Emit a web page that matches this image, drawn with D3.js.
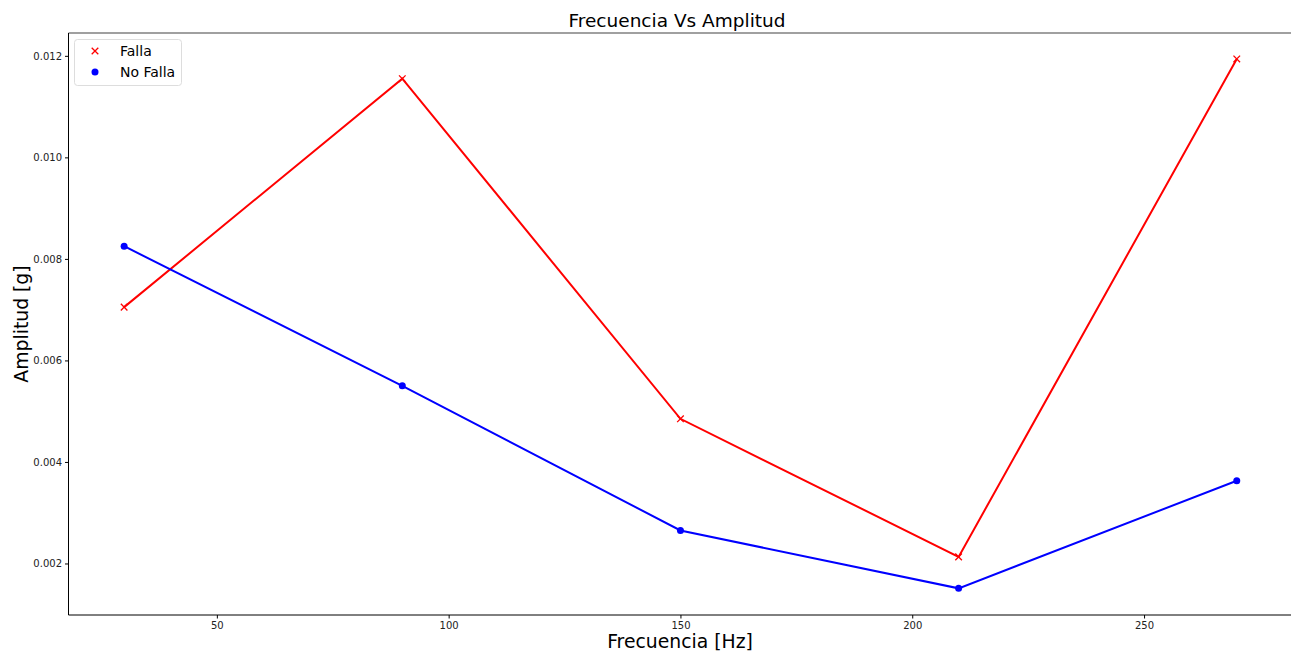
<!DOCTYPE html>
<html><head><meta charset="utf-8">
<script src="https://cdn.jsdelivr.net/npm/d3@7"></script>
<style>body{margin:0;background:#fff}svg{display:block}text{font-family:"DejaVu Sans",sans-serif}</style>
</head><body><svg id="c" width="1291" height="651"></svg>
<script>
const frecuencias = [30, 90, 150, 210, 270];
const falla = [0.00705, 0.01155, 0.00485, 0.00213, 0.01194];
const noFalla = [0.00825, 0.0055, 0.00265, 0.00151, 0.00363];
const xTicks = [50, 100, 150, 200, 250];
const yTicks = [0.002, 0.004, 0.006, 0.008, 0.010, 0.012];

const svg = d3.select("#c");
const L = 68.5, R = 1292.4, T = 33, B = 615;
const x = d3.scaleLinear().domain([18, 282]).range([L, R]);
const y = d3.scaleLinear().domain([0.000985, 0.01245]).range([B, T]);

// x axis
const xa = svg.append("g").attr("transform", `translate(0,${B})`)
  .call(d3.axisBottom(x).tickValues(xTicks).tickSize(3.5).tickPadding(3).tickFormat(d3.format("d")));
xa.select(".domain").remove();
xa.selectAll("text").attr("font-size", 10).attr("fill", "#222").style("font-family","DejaVu Sans");
const ya = svg.append("g").attr("transform", `translate(${L},0)`)
  .call(d3.axisLeft(y).tickValues(yTicks).tickSize(3.5).tickPadding(3).tickFormat(d3.format(".3f")));
ya.select(".domain").remove();
ya.selectAll("text").attr("font-size", 10).attr("fill", "#222").style("font-family","DejaVu Sans");

// spines
svg.append("line").attr("x1", L).attr("x2", 1291).attr("y1", T).attr("y2", T).attr("stroke", "#808080").attr("stroke-width", 1.6);
svg.append("line").attr("x1", L).attr("x2", L).attr("y1", T).attr("y2", B).attr("stroke", "#000").attr("stroke-width", 1);
svg.append("line").attr("x1", L).attr("x2", 1291).attr("y1", B).attr("y2", B).attr("stroke", "#000").attr("stroke-width", 1);

const line = d3.line().x((d, i) => x(frecuencias[i])).y(d => y(d));
svg.append("path").datum(falla).attr("d", line).attr("fill", "none").attr("stroke", "red").attr("stroke-width", 2);
svg.append("path").datum(noFalla).attr("d", line).attr("fill", "none").attr("stroke", "blue").attr("stroke-width", 2);

function cross(g, cx, cy, s, color) {
  g.append("path").attr("d", `M${cx - s},${cy - s}L${cx + s},${cy + s}M${cx - s},${cy + s}L${cx + s},${cy - s}`)
    .attr("stroke", color).attr("stroke-width", 1.3).attr("fill", "none");
}
falla.forEach((v, i) => cross(svg, x(frecuencias[i]), y(v), 3.3, "red"));
svg.selectAll("circle.nf").data(noFalla).enter().append("circle").attr("class", "nf")
  .attr("cx", (d, i) => x(frecuencias[i])).attr("cy", d => y(d)).attr("r", 3.5).attr("fill", "blue");

// title & labels
svg.append("text").attr("x", 677).attr("y", 27).attr("text-anchor", "middle").attr("font-size", 18.5).text("Frecuencia Vs Amplitud");
svg.append("text").attr("x", 680).attr("y", 648).attr("text-anchor", "middle").attr("font-size", 18.8).text("Frecuencia [Hz]");
svg.append("text").attr("transform", "translate(28,324) rotate(-90)").attr("text-anchor", "middle").attr("font-size", 18.8).text("Amplitud [g]");

// legend
const lg = svg.append("g");
lg.append("rect").attr("x", 74.5).attr("y", 39.5).attr("width", 107).attr("height", 46).attr("rx", 3)
  .attr("fill", "#fff").attr("fill-opacity", 0.8).attr("stroke", "#ddd").attr("stroke-width", 1);
cross(lg, 95, 51, 3.3, "red");
lg.append("circle").attr("cx", 95).attr("cy", 72).attr("r", 3.5).attr("fill", "blue");
lg.append("text").attr("x", 120).attr("y", 56).attr("font-size", 14).text("Falla");
lg.append("text").attr("x", 120).attr("y", 77).attr("font-size", 14).text("No Falla");
</script></body></html>
